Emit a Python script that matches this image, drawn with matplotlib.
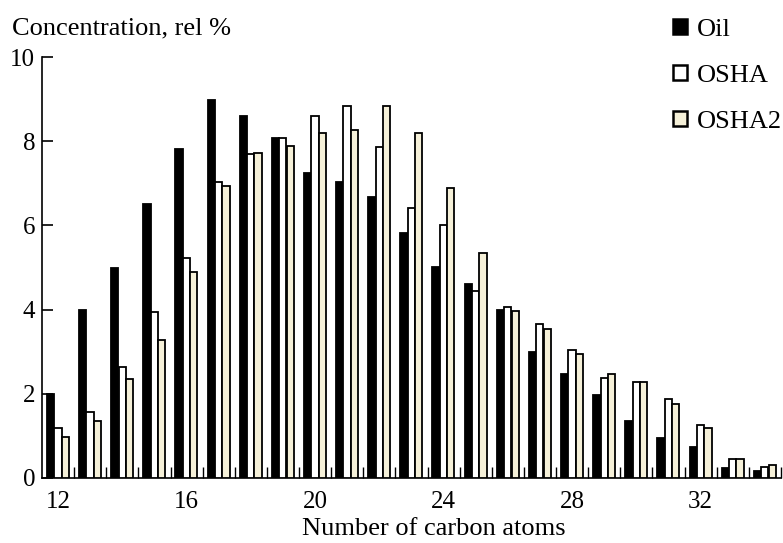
import numpy as np
import matplotlib
matplotlib.use("Agg")
import matplotlib.pyplot as plt
from matplotlib.patches import Patch

carbons = np.arange(12, 35)
oil = [2.0, 3.99, 4.99, 6.5, 7.81, 8.98, 8.6, 8.07, 7.25, 7.02, 6.67, 5.82,
       5.02, 4.61, 3.99, 3.0, 2.47, 1.97, 1.35, 0.95, 0.74, 0.24, 0.17]
osha = [1.19, 1.57, 2.64, 3.94, 5.22, 7.02, 7.7, 8.07, 8.6, 8.84, 7.87, 6.41,
        6.01, 4.44, 4.06, 3.66, 3.04, 2.37, 2.28, 1.88, 1.26, 0.45, 0.27]
osha2 = [0.98, 1.35, 2.35, 3.28, 4.9, 6.94, 7.72, 7.89, 8.19, 8.27, 8.84, 8.2,
         6.88, 5.34, 3.97, 3.54, 2.95, 2.47, 2.28, 1.76, 1.19, 0.45, 0.32]
series = ["Oil", "OSHA", "OSHA2"]
x_labels = [12, 16, 20, 24, 28, 32]

cream = "#f5f0d8"
colors = ["black", "white", cream]

plt.rcParams["font.family"] = ["Liberation Serif", "DejaVu Serif"]

fig = plt.figure(figsize=(7.83, 5.43), dpi=100)
ax = fig.add_axes([42 / 783, 1 - 478 / 543, 739 / 783, 421 / 543])

w = 0.225
offsets = [-0.235, -0.005, 0.225]
for vals, off, c in zip([oil, osha, osha2], offsets, colors):
    ax.bar(carbons + off, vals, width=w, color=c, edgecolor="black",
           linewidth=1.3, zorder=3)

ax.set_xlim(11.5, 34.5)
ax.set_ylim(0, 10)
ax.spines["top"].set_visible(False)
ax.spines["right"].set_visible(False)
ax.spines["left"].set_linewidth(1.2)
ax.spines["bottom"].set_linewidth(1.2)

ax.set_xticks(x_labels)
ax.set_xticks(np.arange(12.5, 35, 1), minor=True)
ax.tick_params(axis="x", which="major", length=0, labelsize=18, pad=9)
ax.tick_params(axis="x", which="minor", direction="in", length=8, width=1)
ax.set_yticks([0, 2, 4, 6, 8, 10])
ax.tick_params(axis="y", direction="in", length=8, width=1.2,
               labelsize=18, pad=5)

fig.text(12 / 783, 1 - 34 / 543, "Concentration, rel %", fontsize=19,
         ha="left", va="baseline")
fig.text(434 / 783, 1 - 535 / 543, "Number of carbon atoms", fontsize=19,
         ha="center", va="baseline")

handles = [Patch(facecolor=c, edgecolor="black", linewidth=1.8) for c in colors]
fig.legend(handles, series, loc="upper left", bbox_to_anchor=(673 / 783, 1 - 19 / 543),
           frameon=False, fontsize=19, handlelength=0.52, handleheight=0.52,
           handletextpad=0.4, labelspacing=0.9, borderpad=0, borderaxespad=0)

fig.savefig("out.png", dpi=100)
